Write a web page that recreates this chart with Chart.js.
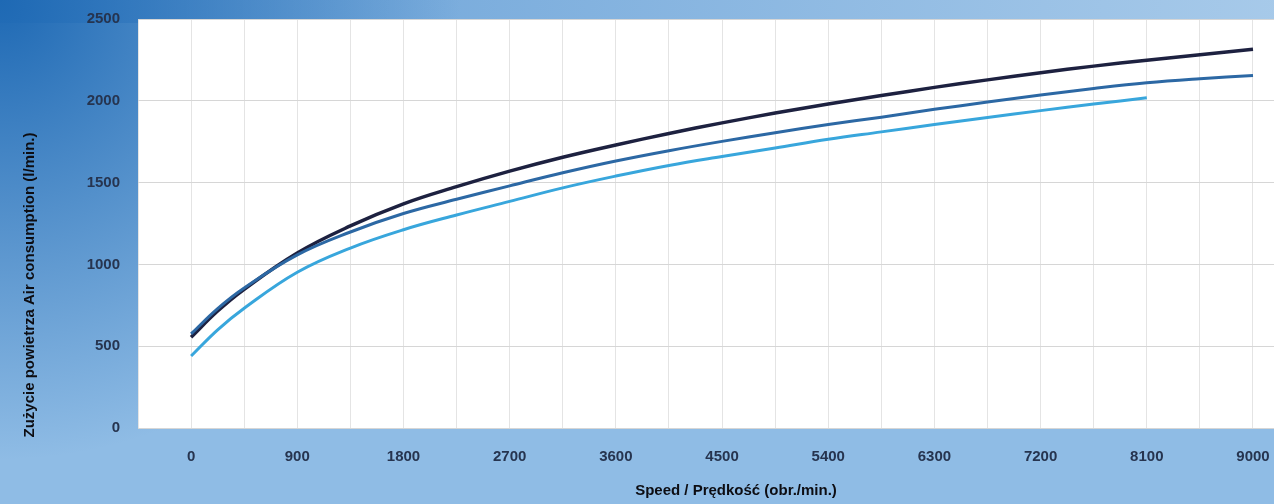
<!DOCTYPE html>
<html>
<head>
<meta charset="utf-8">
<script src="https://cdn.jsdelivr.net/npm/chart.js@4"></script>
<style>
  html, body { margin: 0; padding: 0; }
  #wrap { width: 1274px; height: 504px; }
</style>
</head>
<body>
<div id="wrap"><canvas id="myChart" width="1274" height="504"></canvas></div>
<script>
// speeds (obr./min.) and air consumption (l/min.)
var speeds = [0, 225, 450, 900, 1350, 1800, 2250, 2700, 3150, 3600, 4050, 4500, 4950, 5400, 5850, 6300, 6750, 7200, 7650, 8100, 8550, 9000];
var darkLine = [555, 715, 848, 1070, 1235, 1370, 1475, 1570, 1655, 1730, 1800, 1865, 1925, 1980, 2032, 2082, 2128, 2172, 2212, 2248, 2282, 2315];
var midLine = [575, 730, 856, 1058, 1198, 1311, 1398, 1480, 1560, 1632, 1695, 1752, 1805, 1855, 1900, 1948, 1992, 2035, 2075, 2110, 2135, 2155];
var lightLine = [440, 600, 732, 952, 1100, 1212, 1302, 1385, 1468, 1540, 1605, 1660, 1712, 1765, 1810, 1855, 1898, 1940, 1980, 2018];
var xTicks = [-450, 0, 450, 900, 1350, 1800, 2250, 2700, 3150, 3600, 4050, 4500, 4950, 5400, 5850, 6300, 6750, 7200, 7650, 8100, 8550, 9000];
var yTicks = [0, 500, 1000, 1500, 2000, 2500];
var xTitle = "Speed / Prędkość (obr./min.)";
var yTitle = "Zużycie powietrza Air consumption (l/min.)";

function points(vals) {
   var out = [];
   for (var i = 0; i < vals.length; i++) {
      out.push({x: speeds[i], y: vals[i]});
   }
   return out;
}

//Background gradient, white plot area and the axis titles
var decor = {
   id: 'decor',
   beforeDraw: function(chart) {
      var ctx = chart.ctx, a = chart.chartArea;
      ctx.save();
      ctx.fillStyle = '#8fbce5';
      ctx.fillRect(0, 0, chart.width, chart.height);
      var g = ctx.createLinearGradient(0, 0, chart.width, 0);
      g.addColorStop(0, 'rgba(60,130,200,0.55)');
      g.addColorStop(1, 'rgba(190,215,238,0.5)');
      ctx.fillStyle = g;
      ctx.fillRect(0, 0, chart.width, a.top + 4);
      var r = ctx.createRadialGradient(0, 0, 0, 0, 0, 460);
      r.addColorStop(0, 'rgba(30,105,180,1)');
      r.addColorStop(1, 'rgba(30,105,180,0)');
      ctx.fillStyle = r;
      ctx.fillRect(0, 0, chart.width, chart.height);
      ctx.fillStyle = '#ffffff';
      ctx.fillRect(a.left, a.top, a.right - a.left, a.bottom - a.top);
      ctx.restore();
   },
   afterDraw: function(chart) {
      var ctx = chart.ctx;
      ctx.save();
      ctx.fillStyle = '#0d0d12';
      ctx.font = 'bold 15px "Liberation Sans", Arial, sans-serif';
      ctx.textAlign = 'center';
      ctx.textBaseline = 'middle';
      ctx.fillText(xTitle, 736, 491);
      ctx.translate(30, 285);
      ctx.rotate(-Math.PI / 2);
      ctx.fillText(yTitle, 0, 0);
      ctx.restore();
   }
};

var ctx = document.getElementById("myChart").getContext('2d');
var chart = new Chart(ctx, {
    type: 'line',
    data: {
        datasets: [{
            label: "light",
            data: points(lightLine),
            borderColor: '#38a6dc',
            borderWidth: 3,
            pointRadius: 0,
            tension: 0.4
        }, {
            label: "middle",
            data: points(midLine),
            borderColor: '#2c68a4',
            borderWidth: 3,
            pointRadius: 0,
            tension: 0.4
        }, {
            label: "dark",
            data: points(darkLine),
            borderColor: '#1d2140',
            borderWidth: 3.5,
            pointRadius: 0,
            tension: 0.4
        }]
    },
    options: {
        responsive: false,
        animation: false,
        layout: { padding: { top: 19, right: 0, left: 0, bottom: 0 } },
        plugins: { legend: { display: false }, tooltip: { enabled: false } },
        scales: {
            x: {
                type: 'linear',
                min: -450,
                max: 9178,
                afterBuildTicks: function(scale) {
                   scale.ticks = xTicks.map(function(v) { return {value: v}; });
                },
                afterFit: function(scale) {
                   scale.height = 76;
                   scale.paddingLeft = 0;
                   scale.paddingRight = 0;
                },
                grid: { color: '#e4e4e4', drawTicks: false },
                border: { display: false },
                ticks: {
                   autoSkip: false,
                   maxRotation: 0,
                   padding: 20,
                   color: '#26344f',
                   font: { family: '"Liberation Sans", Arial, sans-serif', size: 15, weight: 'bold' },
                   callback: function(v) { return (v >= 0 && v % 900 === 0) ? String(v) : ''; }
                }
            },
            y: {
                min: 0,
                max: 2500,
                afterBuildTicks: function(scale) {
                   scale.ticks = yTicks.map(function(v) { return {value: v}; });
                },
                afterFit: function(scale) {
                   scale.width = 138;
                   scale.paddingTop = 0;
                   scale.paddingBottom = 0;
                },
                grid: { color: '#d6d6d6', drawTicks: false },
                border: { display: false },
                ticks: {
                   padding: 18,
                   color: '#26344f',
                   font: { family: '"Liberation Sans", Arial, sans-serif', size: 15, weight: 'bold' },
                   callback: function(v) { return String(v); }
                }
            }
        }
    },
    plugins: [decor]
});
</script>
</body>
</html>
